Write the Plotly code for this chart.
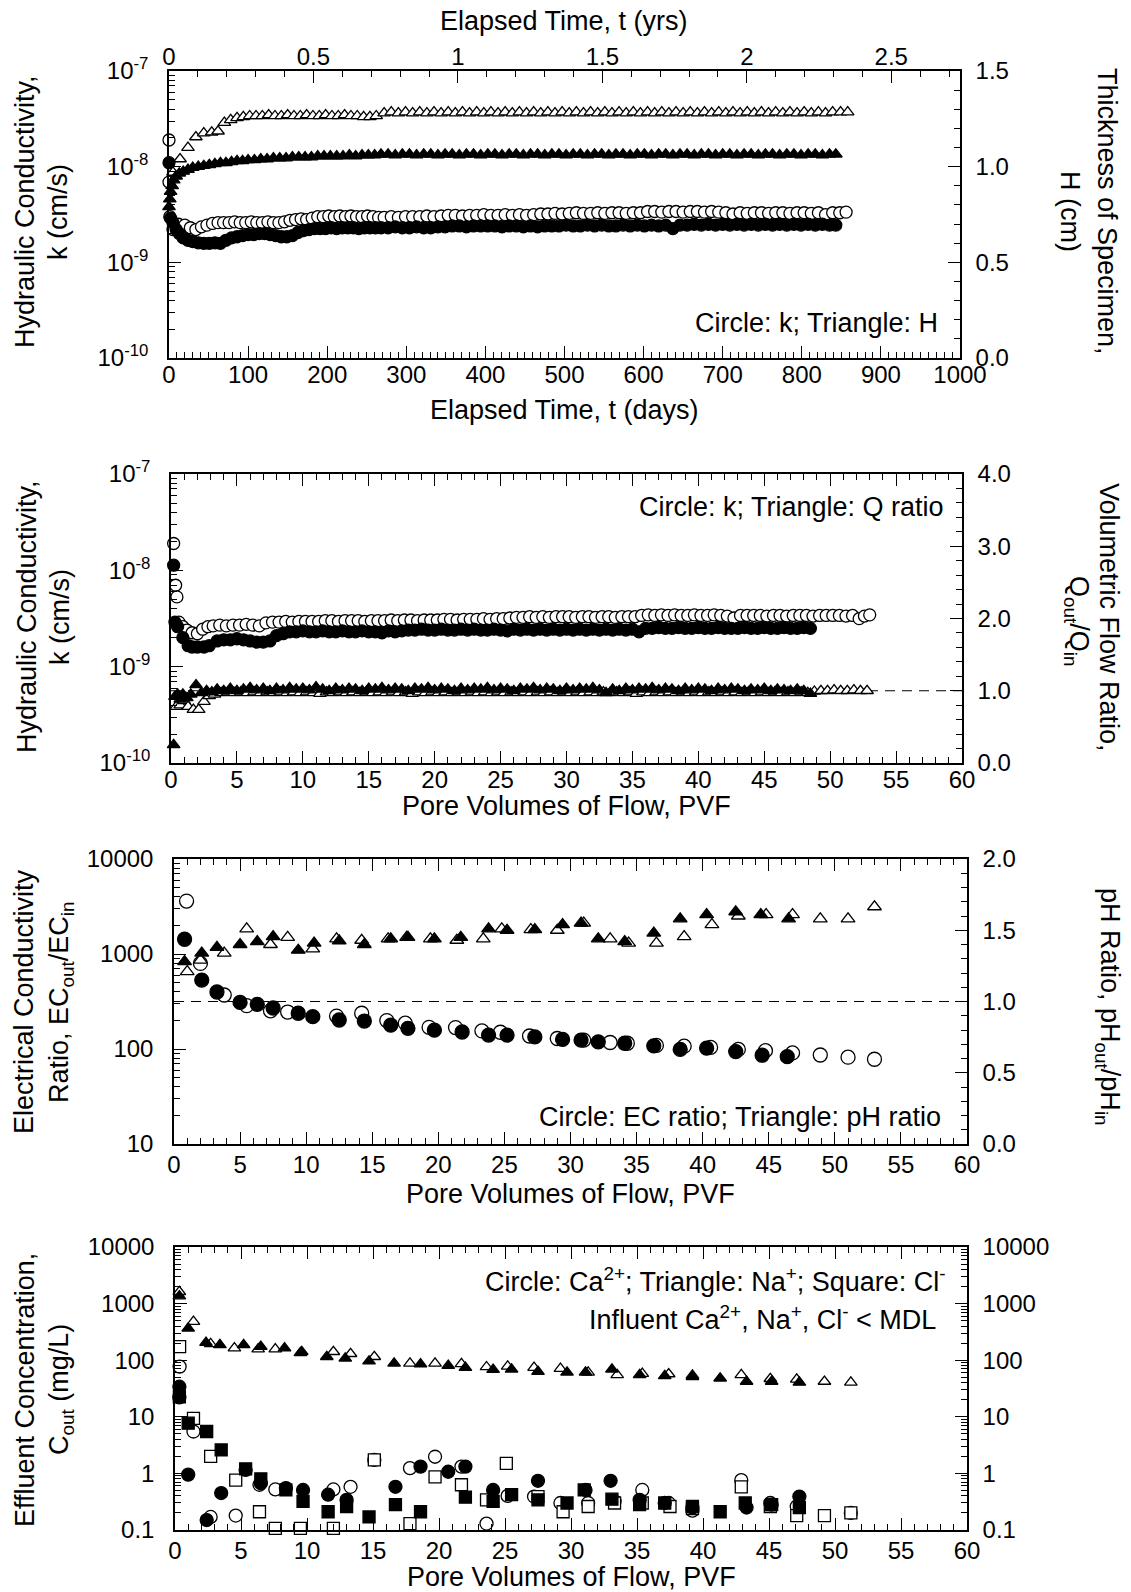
import plotly.graph_objects as go

W, H = 1131, 1592
FONT = "Arial, Liberation Sans, sans-serif"

# ---------------- Panel 1: k and H vs elapsed time (days) ----------------
# (day, k x 1e-9 cm/s)
p1_k_open = [(0, 19.0), (0, 6.9), (1, 3.0), (5, 2.2), (12, 2.5), (20, 2.45), (27, 2.3), (34, 2.2),
             (41, 2.35), (48, 2.45), (55, 2.55), (62, 2.6), (69, 2.6), (76, 2.6), (83, 2.65), (90, 2.6),
             (97, 2.6), (104, 2.65), (111, 2.6), (118, 2.6), (125, 2.65), (132, 2.6), (139, 2.6), (146, 2.65),
             (153, 2.75), (160, 2.8), (167, 2.85), (174, 2.8), (181, 2.9), (188, 3.0), (195, 3.0), (202, 3.05),
             (209, 3.0), (216, 3.05), (223, 3.0), (230, 3.05), (237, 3.0), (244, 3.0), (251, 3.05), (258, 3.0),
             (265, 2.95), (272, 2.95), (281, 3.0), (290, 2.95), (299, 3.0), (308, 3.0), (317, 3.0), (326, 3.05),
             (335, 3.0), (344, 3.05), (353, 3.1), (362, 3.1), (371, 3.05), (380, 3.1), (389, 3.1), (398, 3.15),
             (407, 3.1), (416, 3.1), (425, 3.15), (434, 3.1), (443, 3.15), (452, 3.1), (461, 3.15), (470, 3.2),
             (479, 3.2), (488, 3.25), (497, 3.2), (506, 3.25), (515, 3.3), (524, 3.25), (533, 3.25), (542, 3.3),
             (551, 3.25), (560, 3.3), (569, 3.3), (578, 3.25), (587, 3.3), (596, 3.3), (605, 3.4), (614, 3.4),
             (623, 3.35), (632, 3.4), (641, 3.4), (650, 3.35), (659, 3.4), (668, 3.4), (677, 3.35), (686, 3.4),
             (695, 3.35), (704, 3.3), (713, 3.2), (722, 3.3), (731, 3.25), (740, 3.3), (749, 3.3), (758, 3.25),
             (767, 3.3), (776, 3.3), (785, 3.25), (794, 3.3), (803, 3.3), (812, 3.25), (821, 3.3), (830, 3.15),
             (839, 3.3), (848, 3.3), (856, 3.35)]
p1_k_filled = [(0, 11.0), (2, 2.9), (5, 2.6), (9, 2.2), (13, 2.0), (18, 1.8), (24, 1.7), (30, 1.65), (37, 1.6),
               (44, 1.58), (51, 1.58), (58, 1.6), (65, 1.58), (72, 1.7), (79, 1.8), (86, 1.85), (93, 1.9),
               (100, 1.95), (107, 1.95), (114, 2.0), (121, 2.0), (128, 1.95), (135, 1.9), (142, 1.85), (149, 1.85),
               (156, 1.9), (163, 2.05), (170, 2.15), (177, 2.2), (184, 2.25), (191, 2.25), (198, 2.25), (205, 2.3),
               (212, 2.25), (219, 2.3), (226, 2.3), (233, 2.3), (240, 2.25), (247, 2.3), (254, 2.3), (261, 2.3),
               (268, 2.3), (277, 2.3), (286, 2.35), (295, 2.3), (304, 2.3), (313, 2.35), (322, 2.3), (331, 2.3),
               (340, 2.35), (349, 2.35), (358, 2.4), (367, 2.4), (376, 2.35), (385, 2.4), (394, 2.4), (403, 2.4),
               (412, 2.4), (421, 2.35), (430, 2.4), (439, 2.4), (448, 2.35), (457, 2.4), (466, 2.35), (475, 2.4),
               (484, 2.4), (493, 2.4), (502, 2.45), (511, 2.4), (520, 2.4), (529, 2.45), (538, 2.4), (547, 2.45),
               (556, 2.4), (565, 2.4), (574, 2.45), (583, 2.4), (592, 2.45), (601, 2.4), (610, 2.45), (619, 2.4),
               (628, 2.45), (637, 2.25), (646, 2.45), (655, 2.45), (664, 2.5), (673, 2.45), (682, 2.5), (691, 2.45),
               (700, 2.5), (709, 2.45), (718, 2.5), (727, 2.45), (736, 2.5), (745, 2.45), (754, 2.5), (763, 2.45),
               (772, 2.5), (781, 2.45), (790, 2.5), (799, 2.45), (808, 2.5), (817, 2.45), (826, 2.5), (835, 2.45),
               (843, 2.45)]
# (day, H cm)
p1_h_open = [(5, 0.97), (14, 1.04), (24, 1.10), (34, 1.155), (44, 1.175), (54, 1.18), (62, 1.185), (70, 1.23),
             (78, 1.245), (86, 1.255), (94, 1.26), (102, 1.265), (110, 1.265), (118, 1.265), (126, 1.27),
             (134, 1.265), (142, 1.265), (150, 1.27), (158, 1.265), (166, 1.265), (174, 1.27), (182, 1.265),
             (190, 1.265), (198, 1.27), (206, 1.265), (214, 1.265), (222, 1.27), (230, 1.265), (238, 1.265),
             (246, 1.26), (254, 1.26), (262, 1.265), (272, 1.28), (281, 1.285), (290, 1.28), (299, 1.285),
             (308, 1.28), (317, 1.285), (326, 1.28), (335, 1.285), (344, 1.28), (353, 1.285), (362, 1.28),
             (371, 1.285), (380, 1.28), (389, 1.285), (398, 1.28), (407, 1.285), (416, 1.28), (425, 1.285),
             (434, 1.28), (443, 1.285), (452, 1.28), (461, 1.285), (470, 1.28), (479, 1.285), (488, 1.28),
             (497, 1.285), (506, 1.28), (515, 1.285), (524, 1.28), (533, 1.285), (542, 1.28), (551, 1.285),
             (560, 1.28), (569, 1.285), (578, 1.28), (587, 1.285), (596, 1.28), (605, 1.285), (614, 1.28),
             (623, 1.285), (632, 1.28), (641, 1.285), (650, 1.28), (659, 1.285), (668, 1.28), (677, 1.285),
             (686, 1.28), (695, 1.285), (704, 1.28), (713, 1.285), (722, 1.28), (731, 1.285), (740, 1.28),
             (749, 1.285), (758, 1.28), (767, 1.285), (776, 1.28), (785, 1.285), (794, 1.28), (803, 1.285),
             (812, 1.28), (821, 1.285), (830, 1.28), (839, 1.285), (849, 1.285), (858, 1.285)]
p1_h_filled = [(0, 0.79), (1, 0.83), (2, 0.87), (4, 0.90), (6, 0.93), (9, 0.95), (13, 0.965), (18, 0.975),
               (24, 0.985), (30, 0.995), (37, 1.0), (44, 1.005), (51, 1.01), (58, 1.015), (65, 1.02), (72, 1.02),
               (79, 1.025), (86, 1.03), (93, 1.03), (100, 1.035), (108, 1.035), (116, 1.04), (124, 1.04),
               (132, 1.045), (140, 1.045), (148, 1.045), (156, 1.05), (164, 1.05), (172, 1.05), (180, 1.05),
               (188, 1.055), (196, 1.055), (204, 1.055), (212, 1.055), (220, 1.055), (228, 1.06), (236, 1.055),
               (244, 1.06), (252, 1.06), (260, 1.06), (268, 1.065), (277, 1.065), (286, 1.06), (295, 1.065),
               (304, 1.065), (313, 1.06), (322, 1.065), (331, 1.065), (340, 1.06), (349, 1.065), (358, 1.065),
               (367, 1.06), (376, 1.065), (385, 1.065), (394, 1.06), (403, 1.065), (412, 1.065), (421, 1.06),
               (430, 1.065), (439, 1.065), (448, 1.06), (457, 1.065), (466, 1.065), (475, 1.06), (484, 1.065),
               (493, 1.065), (502, 1.06), (511, 1.065), (520, 1.065), (529, 1.06), (538, 1.065), (547, 1.065),
               (556, 1.06), (565, 1.065), (574, 1.065), (583, 1.06), (592, 1.065), (601, 1.065), (610, 1.06),
               (619, 1.065), (628, 1.065), (637, 1.06), (646, 1.065), (655, 1.065), (664, 1.06), (673, 1.065),
               (682, 1.065), (691, 1.06), (700, 1.065), (709, 1.065), (718, 1.06), (727, 1.065), (736, 1.065),
               (745, 1.06), (754, 1.065), (763, 1.065), (772, 1.06), (781, 1.065), (790, 1.065), (799, 1.06),
               (808, 1.065), (817, 1.065), (826, 1.06), (835, 1.065), (843, 1.065)]

# ---------------- Panel 2: k and Q ratio vs PVF ----------------
p2_k_open = [(0.2, 19.0), (0.35, 7.0), (0.45, 5.3), (0.6, 2.9), (0.9, 2.6), (1.2, 2.4), (1.6, 2.25), (2.0, 2.2),
             (2.4, 2.45), (2.8, 2.6), (3.2, 2.65), (3.7, 2.7), (4.2, 2.65), (4.7, 2.7), (5.2, 2.7), (5.7, 2.75),
             (6.2, 2.7), (6.7, 2.65), (7.2, 2.85), (7.7, 2.9), (8.2, 2.9), (8.7, 2.95), (9.2, 2.9), (9.7, 2.95),
             (10.2, 2.95), (10.7, 2.95), (11.2, 2.95), (11.7, 3.0), (12.2, 3.0), (12.7, 2.95), (13.2, 3.0),
             (13.7, 3.0), (14.2, 3.0), (14.7, 2.95), (15.2, 3.0), (15.7, 3.0), (16.2, 3.0), (16.7, 3.05),
             (17.2, 3.0), (17.7, 3.05), (18.2, 3.05), (18.7, 3.0), (19.2, 3.05), (19.7, 3.05), (20.2, 3.05),
             (20.7, 3.1), (21.2, 3.1), (21.7, 3.05), (22.2, 3.1), (22.7, 3.1), (23.2, 3.1), (23.7, 3.15),
             (24.2, 3.1), (24.7, 3.15), (25.2, 3.15), (25.7, 3.2), (26.2, 3.25), (26.7, 3.25), (27.2, 3.3),
             (27.7, 3.25), (28.2, 3.3), (28.7, 3.25), (29.2, 3.3), (29.7, 3.3), (30.2, 3.3), (30.7, 3.25),
             (31.2, 3.3), (31.7, 3.3), (32.2, 3.25), (32.7, 3.3), (33.2, 3.3), (33.7, 3.25), (34.2, 3.3),
             (34.7, 3.3), (35.2, 3.3), (35.7, 3.4), (36.2, 3.45), (36.7, 3.4), (37.2, 3.45), (37.7, 3.4),
             (38.2, 3.45), (38.7, 3.4), (39.2, 3.4), (39.7, 3.45), (40.2, 3.4), (40.7, 3.4), (41.2, 3.45),
             (41.7, 3.4), (42.2, 3.35), (42.7, 3.2), (43.2, 3.4), (43.7, 3.4), (44.2, 3.4), (44.7, 3.4),
             (45.2, 3.35), (45.7, 3.4), (46.2, 3.4), (46.7, 3.35), (47.2, 3.4), (47.7, 3.4), (48.2, 3.4),
             (48.7, 3.35), (49.2, 3.4), (49.7, 3.4), (50.2, 3.4), (50.7, 3.4), (51.2, 3.35), (51.7, 3.4),
             (52.2, 3.15), (52.6, 3.35), (53.0, 3.45)]
p2_k_filled = [(0.2, 11.3), (0.3, 2.9), (0.5, 2.6), (0.9, 2.0), (1.3, 1.65), (1.6, 1.6), (2.0, 1.6), (2.5, 1.6),
               (2.9, 1.65), (3.5, 1.85), (4.0, 1.9), (4.5, 1.9), (5.0, 1.95), (5.5, 1.9), (6.0, 1.85), (6.5, 1.8),
               (7.0, 1.8), (7.5, 1.85), (8.0, 2.1), (8.5, 2.2), (9.0, 2.3), (9.5, 2.3), (10.0, 2.35), (10.5, 2.3),
               (11.0, 2.3), (11.5, 2.35), (12.0, 2.3), (12.5, 2.3), (13.0, 2.35), (13.5, 2.3), (14.0, 2.3),
               (14.5, 2.35), (15.0, 2.3), (15.5, 2.3), (16.0, 2.25), (16.5, 2.35), (17.0, 2.3), (17.5, 2.35),
               (18.0, 2.4), (18.5, 2.4), (19.0, 2.45), (19.5, 2.4), (20.0, 2.4), (20.5, 2.45), (21.0, 2.4),
               (21.5, 2.4), (22.0, 2.45), (22.5, 2.4), (23.0, 2.45), (23.5, 2.4), (24.0, 2.4), (24.5, 2.45),
               (25.0, 2.4), (25.5, 2.35), (26.0, 2.45), (26.5, 2.4), (27.0, 2.45), (27.5, 2.4), (28.0, 2.45),
               (28.5, 2.4), (29.0, 2.45), (29.5, 2.4), (30.0, 2.45), (30.5, 2.4), (31.0, 2.45), (31.5, 2.4),
               (32.0, 2.45), (32.5, 2.4), (33.0, 2.45), (33.5, 2.4), (34.0, 2.45), (34.5, 2.4), (35.0, 2.45),
               (35.5, 2.3), (36.0, 2.5), (36.5, 2.5), (37.0, 2.55), (37.5, 2.5), (38.0, 2.5), (38.5, 2.55),
               (39.0, 2.5), (39.5, 2.5), (40.0, 2.55), (40.5, 2.5), (41.0, 2.5), (41.5, 2.55), (42.0, 2.5),
               (42.5, 2.5), (43.0, 2.5), (43.5, 2.55), (44.0, 2.5), (44.5, 2.5), (45.0, 2.55), (45.5, 2.5),
               (46.0, 2.5), (46.5, 2.55), (47.0, 2.5), (47.5, 2.5), (48.0, 2.55), (48.5, 2.5)]
# (PVF, Qout/Qin)
p2_q_open = [(0.4, 0.78), (0.7, 0.80), (1.0, 0.86), (1.3, 0.78), (1.7, 0.74), (2.1, 0.74), (2.5, 0.85),
             (2.9, 0.93), (3.3, 0.95), (3.8, 0.97), (4.3, 0.98), (4.8, 0.97), (5.3, 0.98), (5.8, 0.97),
             (6.3, 0.98), (6.8, 0.97), (7.3, 0.98), (7.8, 0.97), (8.3, 0.98), (8.8, 0.97), (9.3, 0.98),
             (9.8, 0.97), (10.3, 0.98), (10.8, 0.97), (11.3, 0.96), (11.8, 0.98), (12.3, 0.97), (12.8, 0.98),
             (13.3, 0.97), (13.8, 0.98), (14.3, 0.97), (14.8, 0.98), (15.3, 0.97), (15.8, 0.98), (16.3, 0.97),
             (16.8, 0.98), (17.3, 0.97), (17.8, 0.98), (18.3, 0.96), (18.8, 0.98), (19.3, 0.97), (19.8, 0.98),
             (20.3, 0.97), (20.8, 0.98), (21.3, 0.97), (21.8, 0.98), (22.3, 0.97), (22.8, 0.98), (23.3, 0.97),
             (23.8, 0.98), (24.3, 0.97), (24.8, 0.98), (25.3, 0.97), (25.8, 0.98), (26.3, 0.97), (26.8, 0.98),
             (27.3, 0.97), (27.8, 0.98), (28.3, 0.97), (28.8, 0.98), (29.3, 0.97), (29.8, 0.98), (30.3, 0.97),
             (30.8, 0.98), (31.3, 0.97), (31.8, 0.98), (32.3, 0.97), (32.8, 0.98), (33.3, 0.97), (33.8, 0.98),
             (34.3, 0.97), (34.8, 0.98), (35.3, 0.96), (35.8, 0.98), (36.3, 0.97), (36.8, 0.98), (37.3, 0.97),
             (37.8, 0.98), (38.3, 0.97), (38.8, 0.98), (39.3, 0.97), (39.8, 0.98), (40.3, 0.97), (40.8, 0.98),
             (41.3, 0.97), (41.8, 0.98), (42.3, 0.97), (42.8, 0.98), (43.3, 0.97), (43.8, 0.98), (44.3, 0.97),
             (44.8, 0.98), (45.3, 0.97), (45.8, 0.98), (46.3, 0.97), (46.8, 0.98), (47.3, 0.97), (47.8, 0.98),
             (48.3, 0.97), (48.8, 0.99), (49.3, 1.0), (49.8, 1.0), (50.3, 1.01), (50.8, 1.0), (51.3, 1.0),
             (51.8, 1.01), (52.3, 1.0), (52.8, 1.0)]
p2_q_filled = [(0.2, 0.25), (0.3, 0.92), (0.5, 0.95), (0.7, 0.88), (0.9, 0.95), (1.2, 0.90), (1.5, 0.95),
               (1.9, 1.08), (2.3, 0.97), (2.7, 1.0), (3.1, 0.98), (3.5, 1.02), (4.0, 1.0), (4.5, 1.03), (5.0, 1.0),
               (5.5, 1.02), (6.0, 1.04), (6.5, 1.01), (7.0, 1.03), (7.5, 1.0), (8.0, 1.03), (8.5, 1.01),
               (9.0, 1.04), (9.5, 1.02), (10.0, 1.03), (10.5, 1.01), (11.0, 1.05), (11.5, 1.02), (12.0, 1.0),
               (12.5, 1.03), (13.0, 1.01), (13.5, 1.03), (14.0, 1.02), (14.5, 1.0), (15.0, 1.03), (15.5, 1.02),
               (16.0, 1.04), (16.5, 1.01), (17.0, 1.03), (17.5, 1.02), (18.0, 1.0), (18.5, 1.03), (19.0, 1.02),
               (19.5, 1.04), (20.0, 1.01), (20.5, 1.03), (21.0, 1.02), (21.5, 1.0), (22.0, 1.03), (22.5, 1.01),
               (23.0, 1.03), (23.5, 1.02), (24.0, 1.04), (24.5, 1.01), (25.0, 1.03), (25.5, 1.02), (26.0, 1.0),
               (26.5, 1.03), (27.0, 1.02), (27.5, 1.04), (28.0, 1.01), (28.5, 1.03), (29.0, 1.02), (29.5, 1.0),
               (30.0, 1.03), (30.5, 1.01), (31.0, 1.03), (31.5, 1.02), (32.0, 1.04), (32.5, 1.01), (33.0, 0.97),
               (33.5, 1.02), (34.0, 1.0), (34.5, 1.03), (35.0, 1.01), (35.5, 1.03), (36.0, 1.02), (36.5, 1.04),
               (37.0, 1.01), (37.5, 1.03), (38.0, 1.02), (38.5, 1.0), (39.0, 1.03), (39.5, 1.01), (40.0, 1.03),
               (40.5, 1.02), (41.0, 1.0), (41.5, 1.03), (42.0, 1.01), (42.5, 1.03), (43.0, 1.02), (43.5, 1.0),
               (44.0, 1.02), (44.5, 1.01), (45.0, 1.03), (45.5, 1.0), (46.0, 1.02), (46.5, 1.01), (47.0, 1.0),
               (47.5, 1.02), (48.0, 1.0), (48.5, 0.96)]

# ---------------- Panel 3: EC ratio and pH ratio vs PVF ----------------
p3_ec_open = [(0.95, 3610), (2.0, 796), (3.8, 370), (5.5, 286), (7.3, 252), (8.6, 245), (12.3, 222),
              (14.2, 238), (16.1, 199), (17.5, 187), (19.3, 169), (21.3, 168), (23.3, 155), (24.7, 150),
              (26.9, 137), (29.0, 129), (31.0, 124), (33.0, 117), (34.3, 115), (36.5, 109), (38.6, 107),
              (40.6, 104), (42.7, 99), (44.75, 96), (46.8, 91), (48.9, 86.5), (51.0, 82), (53.0, 78)]
p3_ec_filled = [(0.8, 1430), (2.1, 532), (3.25, 398), (5.0, 309), (6.3, 295), (7.5, 270), (9.4, 238),
                (10.5, 219), (12.5, 202), (14.4, 197), (16.4, 178), (17.7, 165), (19.7, 158), (21.8, 151),
                (23.8, 140), (25.2, 140), (27.3, 134), (29.4, 126), (30.8, 124), (32.1, 119), (34.1, 115),
                (36.3, 108), (38.3, 99), (40.3, 102), (42.5, 94), (44.5, 86), (46.4, 83)]
p3_ph_open = [(1.0, 1.21), (2.0, 1.29), (3.8, 1.34), (5.5, 1.51), (7.3, 1.40), (8.6, 1.45), (10.5, 1.37),
              (12.3, 1.44), (14.2, 1.43), (16.2, 1.44), (17.6, 1.45), (19.4, 1.44), (21.4, 1.43), (23.4, 1.44),
              (24.8, 1.51), (27.0, 1.505), (29.0, 1.50), (31.0, 1.55), (33.0, 1.44), (34.4, 1.41), (36.5, 1.41),
              (38.6, 1.455), (40.7, 1.54), (42.7, 1.60), (44.8, 1.61), (46.8, 1.61), (48.9, 1.58), (51.0, 1.58),
              (53.0, 1.665)]
p3_ph_filled = [(0.8, 1.28), (2.1, 1.34), (3.25, 1.38), (5.0, 1.40), (6.3, 1.42), (7.5, 1.455), (9.4, 1.36),
                (10.6, 1.41), (12.5, 1.425), (14.4, 1.40), (16.4, 1.44), (17.7, 1.45), (19.7, 1.44), (21.7, 1.45),
                (23.8, 1.51), (25.2, 1.50), (27.3, 1.505), (29.4, 1.54), (30.8, 1.55), (32.1, 1.44), (34.1, 1.42),
                (36.3, 1.48), (38.3, 1.58), (40.3, 1.61), (42.5, 1.63), (44.4, 1.61), (46.5, 1.58)]

# ---------------- Panel 4: effluent concentrations (mg/L) vs PVF ----------------
p4_ca_open = [(0.35, 77), (1.4, 5.5), (2.7, 0.17), (4.6, 0.18), (6.4, 0.63), (7.6, 0.52), (12.0, 0.52),
              (13.3, 0.58), (15.1, 1.73), (17.8, 1.24), (19.7, 1.97), (21.7, 1.32), (23.6, 0.13), (25.2, 0.4),
              (27.2, 0.39), (29.2, 0.3), (31.3, 0.3), (33.3, 0.32), (35.4, 0.51), (37.4, 0.3), (39.2, 0.22),
              (42.9, 0.76), (45.1, 0.3), (47.1, 0.26), (51.2, 0.2)]
p4_ca_filled = [(0.33, 34), (0.33, 22), (1.0, 0.95), (2.4, 0.15), (3.5, 0.45), (5.35, 1.15), (6.5, 0.67),
                (8.4, 0.55), (9.7, 0.51), (11.6, 0.42), (13.0, 0.34), (16.7, 0.58), (18.6, 1.32), (20.7, 1.07),
                (22.0, 1.32), (24.1, 0.51), (27.5, 0.74), (31.1, 0.51), (33.0, 0.74), (35.2, 0.34), (37.1, 0.3),
                (39.2, 0.25), (43.3, 0.25), (45.2, 0.28), (47.3, 0.39)]
p4_na_open = [(0.33, 1620), (1.4, 480), (2.7, 195), (4.5, 163), (6.3, 157), (7.6, 157), (9.5, 135), (12.0, 141),
              (13.3, 130), (15.1, 115), (17.8, 88), (19.7, 88), (21.7, 86), (23.6, 76), (25.2, 78), (27.2, 74),
              (29.2, 71), (31.3, 61), (33.5, 55), (35.4, 58), (37.4, 57), (39.2, 54), (42.9, 55), (45.1, 47),
              (47.1, 46), (49.2, 42), (51.2, 40.5)]
p4_na_filled = [(0.33, 1360), (1.0, 365), (2.35, 204), (3.4, 187), (5.2, 187), (6.5, 174), (8.3, 163),
                (9.6, 141), (11.5, 115), (12.9, 108), (14.7, 96), (16.6, 88), (18.6, 85), (20.7, 80), (22.0, 74),
                (24.1, 68), (25.5, 69), (27.5, 63), (29.7, 61), (31.1, 61), (33.1, 69), (35.2, 55), (37.1, 53),
                (39.2, 51), (41.3, 48), (43.3, 42), (45.2, 42), (47.3, 40.5)]
p4_cl_open = [(0.35, 174), (1.4, 9.4), (2.7, 2.0), (4.6, 0.76), (6.4, 0.21), (7.6, 0.107), (9.5, 0.107),
              (12.0, 0.107), (15.1, 1.73), (17.8, 0.13), (19.7, 0.87), (21.7, 0.63), (23.6, 0.34), (25.1, 1.5),
              (27.5, 0.39), (29.4, 0.21), (31.3, 0.26), (33.3, 0.3), (35.4, 0.3), (37.5, 0.26), (39.2, 0.24),
              (42.9, 0.58), (45.1, 0.26), (47.1, 0.18), (49.2, 0.18), (51.2, 0.2)]
p4_cl_filled = [(0.33, 22.6), (1.0, 7.7), (2.4, 5.5), (3.5, 2.6), (5.35, 1.2), (6.5, 0.8), (8.4, 0.51),
                (9.7, 0.32), (11.6, 0.21), (13.0, 0.26), (14.7, 0.17), (16.7, 0.28), (18.6, 0.21), (22.0, 0.38),
                (24.1, 0.32), (25.5, 0.42), (27.5, 0.34), (29.7, 0.3), (31.0, 0.51), (33.1, 0.35), (35.2, 0.28),
                (37.1, 0.3), (39.2, 0.26), (41.3, 0.21), (43.2, 0.3), (45.2, 0.28), (47.3, 0.25)]

# ---------------- layout geometry (pixels) ----------------
P = {1: (169, 960, 71, 358), 2: (171, 962, 474, 763), 3: (174, 967, 859, 1144), 4: (175, 967, 1247, 1530)}


def xd(p):
    return [P[p][0] / W, P[p][1] / W]


def yd(p):
    return [1 - P[p][3] / H, 1 - P[p][2] / H]


def px(x):
    return x / W


def py(y):
    return 1 - y / H


def log_minor(lo, hi):
    return [m * 10 ** e for e in range(lo, hi) for m in range(2, 10)]


def minor(**kw):
    d = dict(ticks='inside', ticklen=6, tickwidth=1, tickcolor='black', showgrid=False)
    d.update(kw)
    return d


def ax(**kw):
    d = dict(showline=True, linecolor='black', linewidth=1.5, ticks='inside', ticklen=12, tickwidth=1.3,
             tickcolor='black', tickfont=dict(family=FONT, size=24, color='black'), showgrid=False,
             zeroline=False, automargin=False, fixedrange=True)
    d.update(kw)
    return d


fig = go.Figure()


def add(pairs, xa, ya, symbol, filled, size, scale=1.0):
    fig.add_trace(go.Scatter(
        x=[p[0] for p in pairs], y=[p[1] * scale for p in pairs], xaxis=xa, yaxis=ya, mode='markers',
        cliponaxis=False, showlegend=False, hoverinfo='skip',
        marker=dict(symbol=symbol, size=size, color='black' if filled else 'white',
                    line=dict(color='black', width=1.3))))


# Panel 1
add(p1_h_open, 'x', 'y2', 'triangle-up', False, 11)
add(p1_h_filled, 'x', 'y2', 'triangle-up', True, 11)
add(p1_k_open, 'x', 'y', 'circle', False, 12, 1e-9)
add(p1_k_filled, 'x', 'y', 'circle', True, 12, 1e-9)
fig.add_trace(go.Scatter(x=[None], y=[None], xaxis='x5', yaxis='y', showlegend=False))
# Panel 2
add(p2_k_open, 'x2', 'y3', 'circle', False, 12, 1e-9)
add(p2_k_filled, 'x2', 'y3', 'circle', True, 12, 1e-9)
add(p2_q_open, 'x2', 'y4', 'triangle-up', False, 11)
add(p2_q_filled, 'x2', 'y4', 'triangle-up', True, 11)
# Panel 3
add(p3_ec_open, 'x3', 'y5', 'circle', False, 14)
add(p3_ec_filled, 'x3', 'y5', 'circle', True, 14)
add(p3_ph_open, 'x3', 'y6', 'triangle-up', False, 12)
add(p3_ph_filled, 'x3', 'y6', 'triangle-up', True, 12)
# Panel 4
add(p4_ca_open, 'x4', 'y7', 'circle', False, 13)
add(p4_cl_open, 'x4', 'y7', 'square', False, 12)
add(p4_na_open, 'x4', 'y7', 'triangle-up', False, 11)
add(p4_ca_filled, 'x4', 'y7', 'circle', True, 13)
add(p4_cl_filled, 'x4', 'y7', 'square', True, 12)
add(p4_na_filled, 'x4', 'y7', 'triangle-up', True, 11)
fig.add_trace(go.Scatter(x=[None], y=[None], xaxis='x4', yaxis='y8', showlegend=False))

exp_ticks = [1e-10, 1e-9, 1e-8, 1e-7]
exp_text = ['10<sup>-10</sup>', '10<sup>-9</sup>', '10<sup>-8</sup>', '10<sup>-7</sup>']
dec4 = [10, 100, 1000, 10000]
dec6 = [0.1, 1, 10, 100, 1000, 10000]
dec6_text = ['0.1', '1', '10', '100', '1000', '10000']

LSO = 14   # left tick label standoff
RSO = 9    # right tick label standoff

fig.update_layout(
    width=W, height=H, margin=dict(l=0, r=0, t=0, b=0), showlegend=False,
    paper_bgcolor='white', plot_bgcolor='white',
    # panel 1
    xaxis=ax(domain=xd(1), anchor='y', range=[0, 1000], tick0=0, dtick=100, minor=minor(dtick=10),
             ticklabelstandoff=-6),
    xaxis5=ax(overlaying='x', side='top', anchor='y', range=[0, 1000 / 365.25], tick0=0, dtick=0.5,
              minor=minor(dtick=0.1), ticklabelstandoff=-5),
    yaxis=ax(domain=yd(1), anchor='x', type='log', range=[-10, -7], tickvals=exp_ticks, ticktext=exp_text,
             minor=minor(tickvals=log_minor(-10, -7)), ticklabelstandoff=LSO),
    yaxis2=ax(overlaying='y', side='right', anchor='x', range=[0, 1.5], tick0=0, dtick=0.5, tickformat='.1f',
              minor=minor(dtick=0.1), ticklabelstandoff=RSO),
    # panel 2
    xaxis2=ax(domain=xd(2), anchor='y3', range=[0, 60], tick0=0, dtick=5, mirror='ticks', minor=minor(dtick=1),
              ticklabelstandoff=-6),
    yaxis3=ax(domain=yd(2), anchor='x2', type='log', range=[-10, -7], tickvals=exp_ticks, ticktext=exp_text,
              minor=minor(tickvals=log_minor(-10, -7)), ticklabelstandoff=LSO),
    yaxis4=ax(overlaying='y3', side='right', anchor='x2', range=[0, 4], tick0=0, dtick=1, tickformat='.1f',
              minor=minor(dtick=0.2), ticklabelstandoff=RSO),
    # panel 3
    xaxis3=ax(domain=xd(3), anchor='y5', range=[0, 60], tick0=0, dtick=5, mirror='ticks', minor=minor(dtick=1),
              ticklabelstandoff=-2),
    yaxis5=ax(domain=yd(3), anchor='x3', type='log', range=[1, 4], tickvals=dec4, ticktext=[str(v) for v in dec4],
              minor=minor(tickvals=log_minor(1, 4)), ticklabelstandoff=LSO),
    yaxis6=ax(overlaying='y5', side='right', anchor='x3', range=[0, 2], tick0=0, dtick=0.5, tickformat='.1f',
              minor=minor(dtick=0.1), ticklabelstandoff=RSO),
    # panel 4
    xaxis4=ax(domain=xd(4), anchor='y7', range=[0, 60], tick0=0, dtick=5, mirror='ticks', minor=minor(dtick=1),
              ticklabelstandoff=-2),
    yaxis7=ax(domain=yd(4), anchor='x4', type='log', range=[-1, 4], tickvals=dec6, ticktext=dec6_text,
              minor=minor(tickvals=log_minor(-1, 4)), ticklabelstandoff=LSO),
    yaxis8=ax(overlaying='y7', side='right', anchor='x4', type='log', range=[-1, 4], tickvals=dec6,
              ticktext=dec6_text, minor=minor(tickvals=log_minor(-1, 4)), ticklabelstandoff=RSO),
)

# dashed reference lines at ratio = 1
fig.add_shape(type='line', xref='x2 domain', yref='y4', x0=0, x1=1, y0=1, y1=1, layer='below',
              line=dict(color='black', width=1.2, dash='10px,7px'))
fig.add_shape(type='line', xref='x3 domain', yref='y6', x0=0, x1=1, y0=1, y1=1, layer='below',
              line=dict(color='black', width=1.2, dash='10px,7px'))

anns = []


def ann(text, x, y, size=27, angle=0, xanchor='center', yanchor='middle'):
    anns.append(dict(text=text, x=px(x), y=py(y), xref='paper', yref='paper', showarrow=False,
                     textangle=angle, xanchor=xanchor, yanchor=yanchor,
                     font=dict(family=FONT, size=size, color='black')))


# panel 1 titles
ann('Elapsed Time, t (yrs)', 564, 21)
ann('Elapsed Time, t (days)', 564, 410)
ann('Hydraulic Conductivity,', 25, 212, angle=-90)
ann('k (cm/s)', 58, 212, angle=-90)
ann('Thickness of Specimen,', 1107, 211, angle=90)
ann('H (cm)', 1070, 211, angle=90)
ann('Circle: k; Triangle: H', 940, 323, xanchor='right')
# panel 2
ann('Pore Volumes of Flow, PVF', 566, 806)
ann('Hydraulic Conductivity,', 27, 617, angle=-90)
ann('k (cm/s)', 60, 617, angle=-90)
ann('Volumetric Flow Ratio,', 1109, 617, angle=90)
ann('Q<sub>out</sub>/Q<sub>in</sub>', 1077, 621, angle=90)
ann('Circle: k; Triangle: Q ratio', 946, 507, xanchor='right')
# panel 3
ann('Pore Volumes of Flow, PVF', 570, 1194)
ann('Electrical Conductivity', 24, 1002, angle=-90)
ann('Ratio, EC<sub>out</sub>/EC<sub>in</sub>', 61, 1002, angle=-90)
ann('pH Ratio, pH<sub>out</sub>/pH<sub>in</sub>', 1108, 1007, angle=90)
ann('Circle: EC ratio; Triangle: pH ratio', 943, 1117, xanchor='right')
# panel 4
ann('Pore Volumes of Flow, PVF', 571, 1577)
ann('Effluent Concentration,', 25, 1390, angle=-90)
ann('C<sub>out</sub> (mg/L)', 61, 1390, angle=-90)
ann('Circle: Ca<sup>2+</sup>; Triangle: Na<sup>+</sup>; Square: Cl<sup>-</sup>', 948, 1280, xanchor='right')
ann('Influent Ca<sup>2+</sup>, Na<sup>+</sup>, Cl<sup>-</sup> &lt; MDL', 938, 1318, xanchor='right')

fig.update_layout(annotations=anns)
fig.write_html('out.html', config={'displayModeBar': False},
               post_script="document.body.style.margin='0px';document.body.style.overflow='hidden';")
